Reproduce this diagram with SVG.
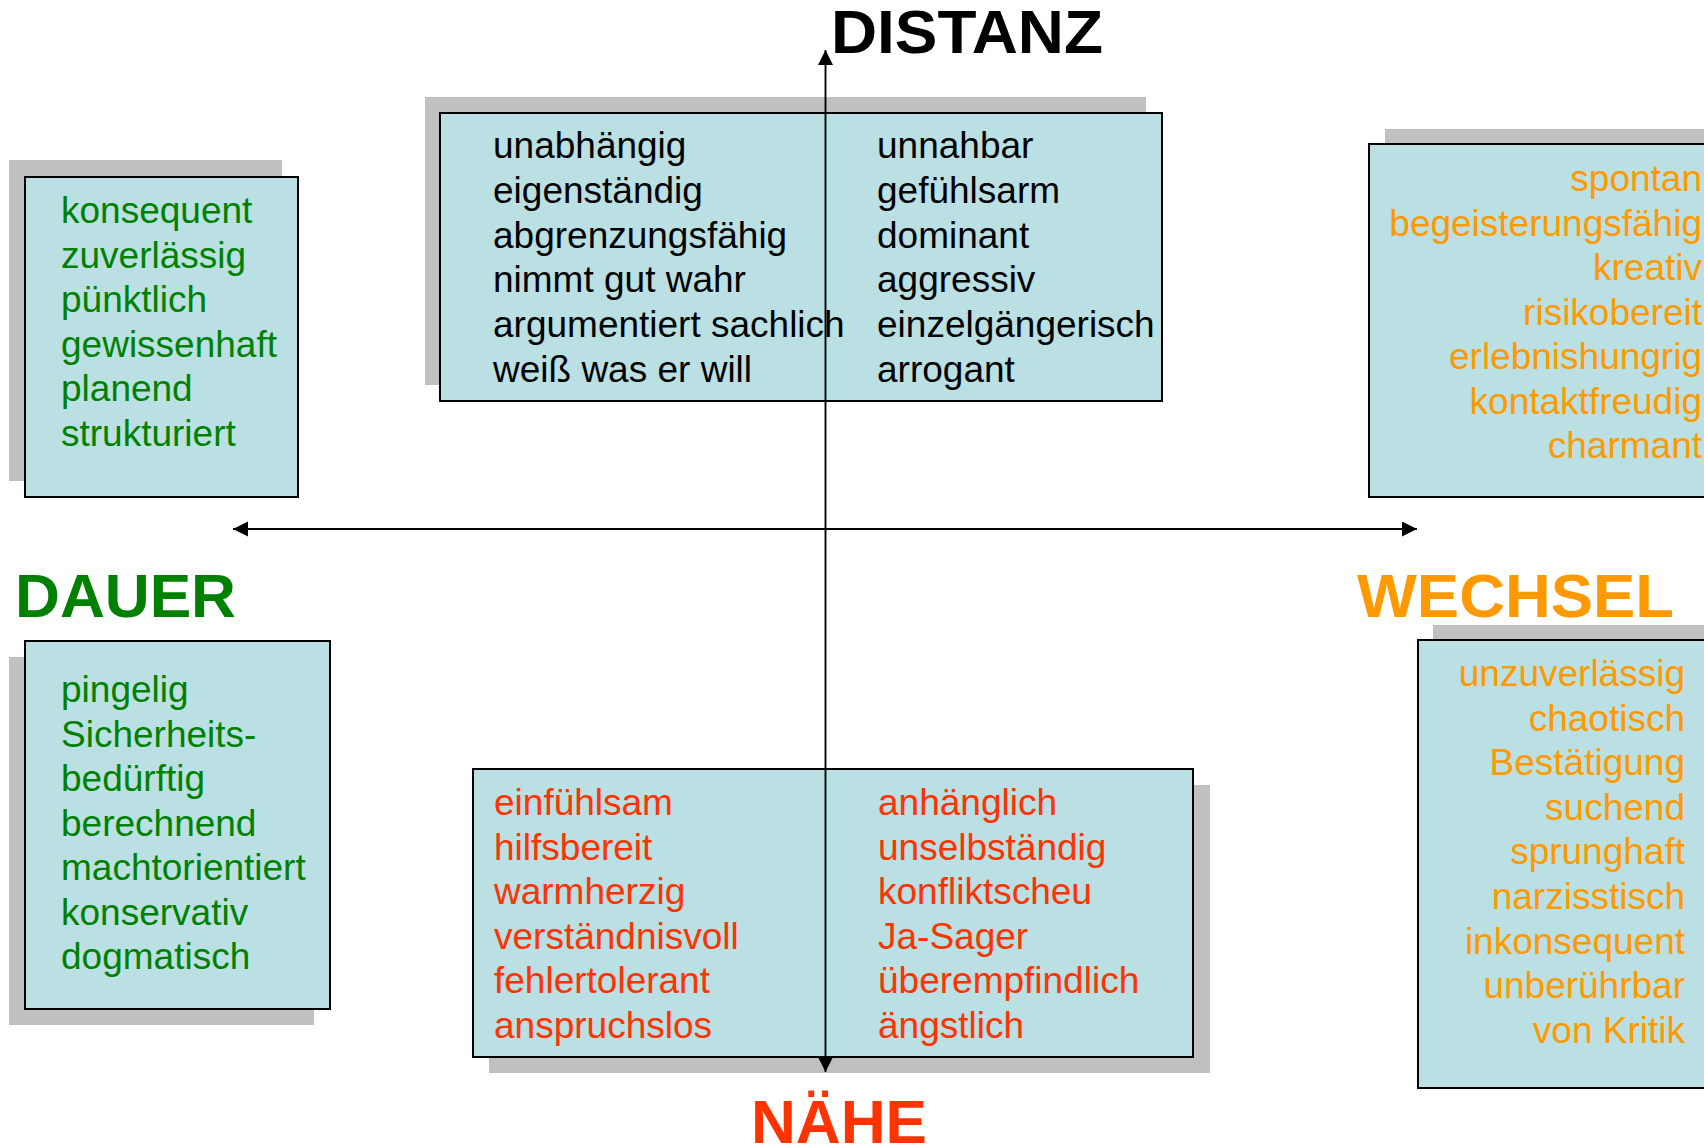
<svg xmlns="http://www.w3.org/2000/svg" width="1704" height="1148" viewBox="0 0 1704 1148">
<style>
.shadow{fill:#C0C0C0}
.box{fill:#BBE0E3;stroke:#000;stroke-width:2}
.t{font-family:"Liberation Sans",Arial,sans-serif;font-size:37px}
.g{fill:#008000}
.o{fill:#FF9900}
.r{fill:#FF3300}
.k{fill:#000}
.lab{font-family:"Liberation Sans",Arial,sans-serif;font-size:62px;font-weight:bold}
.ax{stroke:#000;fill:none}
</style>
<defs>
<marker id="ah" markerUnits="userSpaceOnUse" markerWidth="16" markerHeight="16" refX="15" refY="7.5" orient="auto">
<path d="M0,0 L15,7.5 L0,15 Z" fill="#000"/>
</marker>
</defs>
<rect width="1704" height="1148" fill="#fff"/>

<g id="box-dauer-top">
<rect class="shadow" x="9" y="160" width="273" height="321"/>
<rect class="box" x="25" y="177" width="273" height="320"/>
<text class="t g" x="61" y="223"><tspan x="61">konsequent</tspan><tspan x="61" dy="44.6">zuverlässig</tspan><tspan x="61" dy="44.6">pünktlich</tspan><tspan x="61" dy="44.6">gewissenhaft</tspan><tspan x="61" dy="44.6">planend</tspan><tspan x="61" dy="44.6">strukturiert</tspan></text>
</g>

<g id="box-distanz">
<rect class="shadow" x="425" y="97" width="721" height="288"/>
<rect class="box" x="440" y="113" width="722" height="288"/>
<text class="t k" x="493" y="158"><tspan x="493">unabhängig</tspan><tspan x="493" dy="44.8">eigenständig</tspan><tspan x="493" dy="44.8">abgrenzungsfähig</tspan><tspan x="493" dy="44.8">nimmt gut wahr</tspan><tspan x="493" dy="44.8">argumentiert sachlich</tspan><tspan x="493" dy="44.8">weiß was er will</tspan></text>
<text class="t k" x="877" y="158"><tspan x="877">unnahbar</tspan><tspan x="877" dy="44.8">gefühlsarm</tspan><tspan x="877" dy="44.8">dominant</tspan><tspan x="877" dy="44.8">aggressiv</tspan><tspan x="877" dy="44.8">einzelgängerisch</tspan><tspan x="877" dy="44.8">arrogant</tspan></text>
</g>

<g id="box-wechsel-top">
<rect class="shadow" x="1385" y="129" width="400" height="340"/>
<rect class="box" x="1369" y="144" width="400" height="353"/>
<text class="t o" text-anchor="end" x="1702" y="191"><tspan x="1702">spontan</tspan><tspan x="1702" dy="44.5">begeisterungsfähig</tspan><tspan x="1702" dy="44.5">kreativ</tspan><tspan x="1702" dy="44.5">risikobereit</tspan><tspan x="1702" dy="44.5">erlebnishungrig</tspan><tspan x="1702" dy="44.5">kontaktfreudig</tspan><tspan x="1702" dy="44.5">charmant</tspan></text>
</g>

<g id="box-dauer-bottom">
<rect class="shadow" x="9" y="657" width="305" height="368"/>
<rect class="box" x="25" y="641" width="305" height="368"/>
<text class="t g" x="61" y="702"><tspan x="61">pingelig</tspan><tspan x="61" dy="44.5">Sicherheits-</tspan><tspan x="61" dy="44.5">bedürftig</tspan><tspan x="61" dy="44.5">berechnend</tspan><tspan x="61" dy="44.5">machtorientiert</tspan><tspan x="61" dy="44.5">konservativ</tspan><tspan x="61" dy="44.5">dogmatisch</tspan></text>
</g>

<g id="box-naehe">
<rect class="shadow" x="489" y="785" width="721" height="288"/>
<rect class="box" x="473" y="769" width="720" height="288"/>
<text class="t r" x="494" y="815"><tspan x="494">einfühlsam</tspan><tspan x="494" dy="44.6">hilfsbereit</tspan><tspan x="494" dy="44.6">warmherzig</tspan><tspan x="494" dy="44.6">verständnisvoll</tspan><tspan x="494" dy="44.6">fehlertolerant</tspan><tspan x="494" dy="44.6">anspruchslos</tspan></text>
<text class="t r" x="878" y="815"><tspan x="878">anhänglich</tspan><tspan x="878" dy="44.6">unselbständig</tspan><tspan x="878" dy="44.6">konfliktscheu</tspan><tspan x="878" dy="44.6">Ja-Sager</tspan><tspan x="878" dy="44.6">überempfindlich</tspan><tspan x="878" dy="44.6">ängstlich</tspan></text>
</g>

<g id="box-wechsel-bottom">
<rect class="shadow" x="1433" y="625" width="400" height="440"/>
<rect class="box" x="1418" y="640" width="400" height="448"/>
<text class="t o" text-anchor="end" x="1685" y="686"><tspan x="1685">unzuverlässig</tspan><tspan x="1685" dy="44.6">chaotisch</tspan><tspan x="1685" dy="44.6">Bestätigung</tspan><tspan x="1685" dy="44.6">suchend</tspan><tspan x="1685" dy="44.6">sprunghaft</tspan><tspan x="1685" dy="44.6">narzisstisch</tspan><tspan x="1685" dy="44.6">inkonsequent</tspan><tspan x="1685" dy="44.6">unberührbar</tspan><tspan x="1685" dy="44.6">von Kritik</tspan></text>
</g>

<g id="connectors">
<line class="ax" x1="825.5" y1="1072" x2="825.5" y2="50" stroke-width="1.5" marker-end="url(#ah)"/>
<line class="ax" x1="825.5" y1="50" x2="825.5" y2="1072" stroke-width="1.5" marker-end="url(#ah)"/>
<line class="ax" x1="825" y1="529" x2="233" y2="529" stroke-width="2" marker-end="url(#ah)"/>
<line class="ax" x1="825" y1="529" x2="1417" y2="529" stroke-width="2" marker-end="url(#ah)"/>
</g>

<g id="label-distanz"><text class="lab k" x="831" y="53" textLength="272" lengthAdjust="spacingAndGlyphs">DISTANZ</text></g>
<g id="label-dauer"><text class="lab g" x="15" y="617" textLength="221" lengthAdjust="spacingAndGlyphs">DAUER</text></g>
<g id="label-wechsel"><text class="lab o" x="1357" y="617" textLength="317" lengthAdjust="spacingAndGlyphs">WECHSEL</text></g>
<g id="label-naehe"><text class="lab r" x="751" y="1143" textLength="176" lengthAdjust="spacingAndGlyphs">NÄHE</text></g>
</svg>
